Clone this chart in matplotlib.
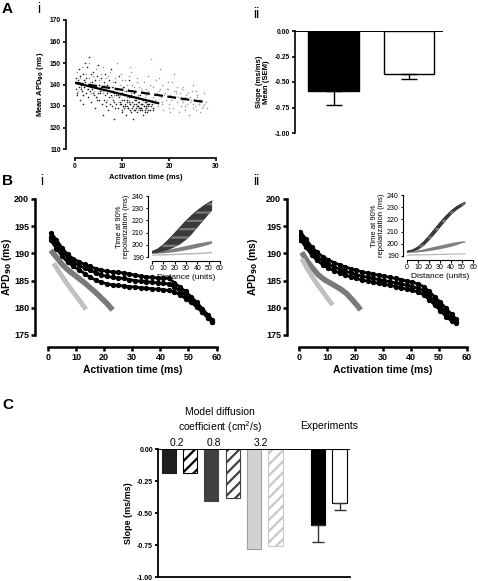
import matplotlib
matplotlib.use('Agg')
import matplotlib.pyplot as plt
import matplotlib.transforms as mtrans

plt.rcParams['font.family'] = ['Liberation Sans', 'DejaVu Sans']
plt.rcParams['hatch.linewidth'] = 1.6

# ---------------- data ----------------
# Panel A-i: scatter (black = early group, gray = late group)
a_black_x = [0.2,0.3,0.5,0.6,0.8,0.9,1.0,1.1,1.3,1.4,1.6,1.7,1.9,2.0,2.1,2.3,2.4,2.6,2.7,2.9,3.0,3.1,3.3,3.4,3.6,3.7,3.9,4.0,4.2,4.3,4.5,4.6,4.8,4.9,5.1,5.2,5.4,5.5,5.7,5.8,6.0,6.1,6.3,6.4,6.6,6.7,6.9,7.0,7.2,7.3,7.5,7.6,7.8,7.9,8.1,8.2,8.4,8.5,8.7,8.8,9.0,9.1,9.3,9.4,9.6,9.7,9.9,10.0,10.2,10.3,10.5,10.6,10.8,10.9,11.1,11.2,11.4,11.5,11.7,11.8,12.0,12.1,12.3,12.4,12.6,12.7,12.9,13.0,13.2,13.3,13.5,13.6,13.8,13.9,14.1,14.2,14.4,14.5,14.7,14.8,15.0,15.1,15.3,15.4,15.6,15.8,16.0,16.3,16.7,17.0,
             0.4,1.2,2.2,3.5,4.4,5.3,6.2,6.8,7.4,8.0,8.6,9.2,9.8,10.1,10.4,10.7,11.0,11.3,11.6,11.9,12.2,12.5,12.8,13.1,13.4,13.7,14.0,14.3,14.6,14.9,15.2,15.5,10.0,11.0,12.0,13.0,14.0,15.0,9.5,10.5,11.5,12.5,13.5,14.5,15.5,8.3,7.7,6.5,5.6,4.7,3.8,2.8,1.8,0.7,16.2,16.5,15.7,14.8,13.8,12.7]
a_black_y = [138,143,136,141,147,139,133,144,140,137,145,131,142,139,150,136,143,148,134,140,153,137,145,132,141,138,146,135,142,129,139,144,136,149,133,140,137,143,131,138,126,141,135,145,132,139,136,128,142,134,137,147,130,139,133,136,124,141,131,135,138,129,134,144,132,136,127,133,139,130,135,131,126,137,133,129,134,142,131,128,135,132,124,130,136,133,129,131,127,134,130,132,128,135,129,131,126,133,130,128,132,129,131,127,130,133,128,131,129,132,
             135,138,141,139,134,136,133,140,131,137,129,135,131,128,133,130,132,129,131,134,129,131,128,130,132,129,131,128,130,132,129,131,136,130,127,133,129,130,131,129,132,128,130,133,128,132,135,130,139,133,136,138,135,142,130,128,131,127,129,134]
a_gray_x = [0.3,0.5,0.7,1.0,1.2,1.5,1.8,2.0,2.3,2.6,2.9,3.2,3.5,3.8,4.1,4.4,4.7,5.0,5.3,5.6,5.9,6.2,6.5,6.8,7.1,7.4,7.7,8.0,8.3,8.6,8.9,9.2,9.5,9.8,10.1,10.4,10.7,11.0,11.3,11.6,11.9,12.2,12.5,12.8,13.1,13.4,13.7,14.0,14.3,14.6,14.9,15.2,15.5,15.8,16.1,16.4,16.7,17.0,17.3,17.6,17.9,18.2,18.5,18.8,19.1,19.4,19.7,20.0,20.3,20.6,20.9,21.2,21.5,21.8,22.1,22.4,22.7,23.0,23.3,23.6,23.9,24.2,24.5,24.8,25.1,25.4,25.7,26.0,26.3,26.6,26.9,27.2,27.5,27.8,28.0,13.5,18.0,9.0,21.0,6.0,25.0,12.0,
            10.5,11.5,12.5,13.5,14.5,15.5,16.5,17.5,18.5,19.5,20.5,21.5,22.5,23.5,24.5,25.5,26.5,27.5,19.0,20.0,21.0,22.0,23.0,24.0,25.0,26.0,27.0,18.0,17.0,16.0,15.0,14.0,13.0,12.0,11.0,10.0,9.0,8.0,7.0,6.0,5.0,4.0,3.0,2.0,1.0,22.8,24.6,26.4,19.8,17.8,15.6,13.2,11.4,9.6,7.8,20.2,23.4,25.8,21.6,18.6]
a_gray_y = [141,146,137,143,139,148,135,142,145,138,150,141,136,144,139,147,134,142,138,145,136,140,143,133,139,146,137,141,135,143,138,132,140,145,136,139,142,134,138,148,136,140,133,137,143,135,139,131,137,141,134,138,144,136,152,133,139,135,142,130,137,134,140,128,136,133,138,131,135,141,129,134,137,132,127,136,133,139,130,135,131,126,134,137,129,133,128,135,131,127,133,130,136,132,129,128,147,150,145,148,140,146,
            137,133,139,135,131,137,134,136,132,138,133,136,130,134,132,130,133,131,135,129,137,134,132,136,131,134,129,138,133,140,135,138,134,137,140,142,136,139,144,137,140,137,143,139,144,138,133,131,141,143,130,141,144,135,134,127,128,137,139,131]
a_fit_black_x = [0, 17.7]
a_fit_black_y = [140.8, 131.3]
a_fit_gray_x = [0, 28.0]
a_fit_gray_y = [140.8, 131.7]

# Panel A-ii
aii_means = [-0.59, -0.42]
aii_sem = [0.14, 0.05]

# Panel B-i main
bi_x = [1,3,5,7,9,11,13,15,17,19,21,23,25,27,29,31,33,35,37,39,41,43,45,47,49,51,53,55,57,58.5]
bi_black_u1 = [193.8,192.5,191.0,189.8,189.0,188.5,188.0,187.6,187.2,186.9,186.7,186.6,186.5,186.4,186.2,186.0,185.8,185.7,185.6,185.5,185.5,185.4,184.6,183.8,183.0,182.0,181.0,179.8,178.7,177.8]
bi_black_u2 = [193.0,191.7,190.3,189.2,188.4,187.8,187.3,186.9,186.4,186.0,185.8,185.6,185.5,185.4,185.2,185.0,184.9,184.8,184.7,184.6,184.5,184.4,183.8,183.1,182.3,181.3,180.3,179.2,178.1,177.4]
bi_black_l1 = [192.4,190.9,189.5,188.4,187.6,187.0,186.3,185.6,185.1,184.7,184.4,184.2,184.1,184.0,183.9,183.8,183.7,183.6,183.5,183.4,183.3,183.2,182.9,182.4,181.7,181.0,180.1,179.2,178.2,177.3]
bi_mid_x = [1,3,5,7,9,11,13,15,17,19,21,23]
bi_mid_y = [190.6,189.3,188.0,187.0,186.2,185.4,184.6,183.7,182.8,181.8,180.8,179.6]
bi_light_x = [2,4,6,8,10,12,13.5]
bi_light_y = [188.2,186.6,185.0,183.6,182.2,180.8,179.7]

# Panel B-i inset
ins_x = [0,5,10,15,20,25,30,35,40,45,50,53]
bi_ins_dark_hi = [194.5,196.5,200.0,204.5,209.5,214.5,219.5,224.0,228.0,231.5,234.5,236.0]
bi_ins_dark_lo = [193.0,193.5,194.5,196.0,198.0,200.5,204.0,208.5,214.0,219.5,225.0,228.0]
bi_ins_mid_hi = [193.5,194.2,195.0,196.0,197.0,198.0,199.0,200.0,201.0,201.8,202.6,203.0]
bi_ins_mid_lo = [192.5,192.7,193.0,193.4,194.0,194.7,195.5,196.5,197.5,198.7,200.0,201.0]
bi_ins_light_hi = [192.0,192.1,192.3,192.5,192.7,192.9,193.1,193.3,193.5,193.7,194.0,194.3]
bi_ins_light_lo = [191.0,191.1,191.2,191.3,191.5,191.7,191.9,192.1,192.3,192.5,192.8,193.1]

# Panel B-ii main
bii_x = [0.5,2.5,4.5,6.5,8.5,10.5,12.5,14.5,16.5,18.5,20.5,22.5,24.5,26.5,28.5,30.5,32.5,34.5,36.5,38.5,40.5,42.5,44.5,46.5,48.5,50.5,52.5,54.5,56.0]
bii_black_u = [194.0,192.6,191.2,190.2,189.4,188.8,188.3,187.9,187.5,187.2,186.9,186.6,186.4,186.2,186.0,185.8,185.6,185.4,185.2,184.9,184.7,184.4,183.9,183.0,182.0,181.0,179.9,178.8,178.0]
bii_black_m = [193.2,191.8,190.4,189.4,188.6,188.0,187.5,187.1,186.7,186.4,186.1,185.8,185.6,185.4,185.2,185.0,184.8,184.6,184.4,184.1,183.9,183.6,183.1,182.2,181.2,180.2,179.1,178.1,177.4]
bii_black_l = [192.5,191.1,189.7,188.7,187.9,187.3,186.8,186.4,186.0,185.7,185.4,185.1,184.9,184.7,184.5,184.3,184.1,183.9,183.7,183.4,183.2,182.9,182.4,181.5,180.5,179.5,178.4,177.6,177.2]
bii_mid_x = [1,3,5,7,9,11,13,15,17,19,21,22]
bii_mid_y = [190.2,188.5,187.2,186.0,185.2,184.6,184.0,183.4,182.6,181.5,180.3,179.6]
bii_light_x = [1,3,5,7,9,11,12]
bii_light_y = [189.0,187.2,185.5,184.0,182.6,181.2,180.5]

# Panel B-ii inset
bii_ins_dark_hi = [194.0,195.0,197.5,201.5,206.5,212.0,217.5,222.5,227.0,230.5,233.0,234.0]
bii_ins_dark_lo = [193.0,193.5,195.0,198.0,202.5,207.5,213.0,218.5,223.5,227.5,230.5,232.5]
bii_ins_mid_hi = [193.5,193.9,194.5,195.4,196.5,197.5,198.5,199.5,200.5,201.3,202.0,202.0]
bii_ins_mid_lo = [192.5,192.7,193.0,193.4,194.0,194.7,195.5,196.5,197.5,198.8,200.5,201.0]
bii_ins_light_hi = [191.2,191.3,191.4,191.5,191.6,191.7,191.8,191.9,192.0,192.1,192.2,192.3]
bii_ins_light_lo = [190.2,190.3,190.4,190.5,190.6,190.7,190.8,190.9,191.0,191.1,191.2,191.3]

# Panel C
c_pos = [0, 1, 2, 3, 4, 5, 7, 8]
c_values = [-0.19, -0.19, -0.41, -0.385, -0.785, -0.76, -0.59, -0.42]
c_err = [0, 0, 0, 0, 0, 0, 0.14, 0.055]
c_diff_labels = ['0.2', '0.8', '3.2']
c_diff_label_pos = [0.4, 2.1, 4.3]

# ---------------- figure ----------------
W, H = 478, 581
fig = plt.figure(figsize=(W / 100, H / 100), dpi=100)
PX = 0.72


def ax_px(x0, y_top, x1, y_bot):
    return fig.add_axes([x0 / W, 1 - y_bot / H, (x1 - x0) / W, (y_bot - y_top) / H])


def prism(ax, left_out, bottom_out, lw=1.3, tl=3, fs=5, bold=True):
    ax.patch.set_visible(False)
    for s in ['top', 'right']:
        ax.spines[s].set_visible(False)
    ax.spines['left'].set_position(('outward', left_out * PX))
    ax.spines['bottom'].set_position(('outward', bottom_out * PX))
    ax.spines['left'].set_linewidth(lw)
    ax.spines['bottom'].set_linewidth(lw)
    ax.tick_params(length=tl, width=lw, labelsize=fs, pad=1.2)
    for lab in ax.get_xticklabels() + ax.get_yticklabels():
        lab.set_fontweight('bold' if bold else 'normal')


def inset(ax, lo_l, hi_l, lo_m, hi_m, lo_d, hi_d):
    ax.fill_between(ins_x, lo_l, hi_l, facecolor='#b8b8b8', edgecolor='none')
    ax.fill_between(ins_x, lo_m, hi_m, facecolor='#808080', edgecolor='none')
    ax.fill_between(ins_x, lo_d, hi_d, facecolor='#3a3a3a', edgecolor='#7a7a7a', hatch='--', linewidth=0)
    ax.plot(ins_x, hi_d, color='#2a2a2a', lw=0.6)
    ax.set_xlim(0, 60)
    ax.set_ylim(190, 240)
    ax.set_xticks([0, 10, 20, 30, 40, 50, 60])
    ax.set_yticks([190, 200, 210, 220, 230, 240])
    prism(ax, 4, 4, lw=0.8, tl=1.8, fs=5, bold=False)
    ax.set_xlabel('Distance (units)', fontsize=6, labelpad=1)
    ax.set_ylabel('Time at 90%\nrepolarization (ms)', fontsize=5.5, labelpad=1.5, linespacing=0.95)


# ---- A-i ----
ax = ax_px(75, 20, 216, 149)
ax.scatter(a_gray_x, a_gray_y, s=1.3, color='#a0a0a0', linewidths=0)
ax.scatter(a_black_x, a_black_y, s=1.3, color='#202020', linewidths=0)
ax.plot(a_fit_black_x, a_fit_black_y, color='black', lw=1.6)
ax.plot(a_fit_gray_x, a_fit_gray_y, color='black', lw=1.6, ls=(0, (4, 2)))
ax.set_xlim(0, 30)
ax.set_ylim(110, 170)
ax.set_xticks([0, 10, 20, 30])
ax.set_yticks([110, 120, 130, 140, 150, 160, 170])
prism(ax, 9, 9, lw=1.2, tl=2.5, fs=4.8)
ax.spines['left'].set_bounds(110, 170)
ax.spines['bottom'].set_bounds(0, 30)
ax.set_xlabel('Activation time (ms)', fontsize=5.5, fontweight='bold', labelpad=3)
ax.set_ylabel('Mean APD$_{\\mathbf{90}}$ (ms)', fontsize=5.5, fontweight='bold', labelpad=3)

# ---- A-ii ----
ax = ax_px(295, 31, 443, 133)
ax.bar([0, 1], aii_means, width=0.67, color=['black', 'white'], edgecolor='black', linewidth=1.0)
ax.errorbar([0, 1], aii_means, yerr=[aii_sem, [0, 0]], fmt='none', ecolor='black', elinewidth=1.0, capsize=6, capthick=1.0)
ax.axhline(0, color='black', lw=1.4)
ax.set_xlim(-0.51, 1.45)
ax.set_ylim(-1.0, 0.0)
ax.set_yticks([0, -0.25, -0.5, -0.75, -1.0])
ax.set_yticklabels(['0.00', '-0.25', '-0.50', '-0.75', '-1.00'])
ax.set_xticks([])
prism(ax, 0, 0, lw=1.2, tl=2.5, fs=4.8)
ax.spines['bottom'].set_visible(False)
ax.set_ylabel('Slope (ms/ms)\nMean (SEM)', fontsize=5.5, fontweight='bold', labelpad=3, linespacing=1.0)

# ---- B-i main ----
ax = ax_px(48, 199, 216.5, 335)
for yy in [bi_black_l1, bi_black_u2, bi_black_u1]:
    ax.plot(bi_x, yy, '-o', color='black', lw=2.0, ms=2.8)
ax.plot(bi_mid_x, bi_mid_y, '-', color='#7a7a7a', lw=4.0, solid_capstyle='butt')
ax.plot(bi_light_x, bi_light_y, '-', color='#c0c0c0', lw=3.5, solid_capstyle='butt')
ax.set_xlim(0, 60)
ax.set_ylim(175, 200)
ax.set_xticks([0, 10, 20, 30, 40, 50, 60])
ax.set_yticks([175, 180, 185, 190, 195, 200])
prism(ax, 13, 12, lw=1.8, tl=3, fs=6.5)
ax.spines['bottom'].set_bounds(0, 60)
ax.set_xlabel('Activation time (ms)', fontsize=7.5, fontweight='bold', labelpad=2)
ax.set_ylabel('APD$_{\\mathbf{90}}$ (ms)', fontsize=7.5, fontweight='bold')
ax.yaxis.set_label_coords(-0.2, 0.5)

# ---- B-i inset ----
ax = ax_px(152, 196, 220, 257)
inset(ax, bi_ins_light_lo, bi_ins_light_hi, bi_ins_mid_lo, bi_ins_mid_hi, bi_ins_dark_lo, bi_ins_dark_hi)

# ---- B-ii main ----
ax = ax_px(299, 199, 467, 335)
for yy in [bii_black_l, bii_black_m, bii_black_u]:
    ax.plot(bii_x, yy, '-o', color='black', lw=2.0, ms=2.8)
ax.plot(bii_mid_x, bii_mid_y, '-', color='#7a7a7a', lw=4.0, solid_capstyle='butt')
ax.plot(bii_light_x, bii_light_y, '-', color='#c0c0c0', lw=3.5, solid_capstyle='butt')
ax.set_xlim(0, 60)
ax.set_ylim(175, 200)
ax.set_xticks([0, 10, 20, 30, 40, 50, 60])
ax.set_yticks([175, 180, 185, 190, 195, 200])
prism(ax, 12, 12, lw=1.8, tl=3, fs=6.5)
ax.spines['bottom'].set_bounds(0, 60)
ax.set_xlabel('Activation time (ms)', fontsize=7.5, fontweight='bold', labelpad=2)
ax.set_ylabel('APD$_{\\mathbf{90}}$ (ms)', fontsize=7.5, fontweight='bold')
ax.yaxis.set_label_coords(-0.235, 0.5)

# ---- B-ii inset ----
ax = ax_px(407, 195, 473, 256)
inset(ax, bii_ins_light_lo, bii_ins_light_hi, bii_ins_mid_lo, bii_ins_mid_hi, bii_ins_dark_lo, bii_ins_dark_hi)

# ---- C ----
ax = ax_px(158.3, 449, 350, 577)
faces = ['#1e1e1e', 'white', '#404040', 'white', '#d2d2d2', 'white', 'black', 'white']
edges = ['#1e1e1e', 'black', '#404040', '#404040', '#a0a0a0', '#c8c8c8', 'black', 'black']
hatches = [None, '///', None, '///', None, '///', None, None]
for p, v, fc, ec, ht in zip(c_pos, c_values, faces, edges, hatches):
    ax.bar(p, v, width=0.66, color=fc, edgecolor=ec, hatch=ht, linewidth=0.8)
for p, v, e in zip(c_pos, c_values, c_err):
    if e > 0:
        ax.errorbar([p], [v], yerr=[[e], [0]], fmt='none', ecolor='#333333', elinewidth=1.0, capsize=4.5, capthick=1.0)
ax.axhline(0, color='black', lw=1.4)
ax.set_xlim(-0.49, 8.49)
ax.set_ylim(-1.0, 0.0)
ax.set_yticks([0, -0.25, -0.5, -0.75, -1.0])
ax.set_yticklabels(['0.00', '-0.25', '-0.50', '-0.75', '-1.00'])
ax.set_xticks([])
prism(ax, 0, 0, lw=1.3, tl=2.5, fs=5)
ax.set_ylabel('Slope (ms/ms)', fontsize=6.5, fontweight='bold', labelpad=3)
tr = mtrans.blended_transform_factory(ax.transData, fig.transFigure)
for lbl, p in zip(c_diff_labels, c_diff_label_pos):
    ax.text(p, 1 - 443 / H, lbl, transform=tr, ha='center', va='center', fontsize=7.5)
ax.text(2.4, 1 - 412 / H, 'Model diffusion', transform=tr, ha='center', va='center', fontsize=7.5)
ax.text(2.4, 1 - 427 / H, 'coefficient (cm$^2$/s)', transform=tr, ha='center', va='center', fontsize=7.5)
ax.text(7.5, 1 - 426 / H, 'Experiments', transform=tr, ha='center', va='center', fontsize=7.5)

# ---- panel labels ----
def ftext(x, y, s, **kw):
    fig.text(x / W, 1 - y / H, s, va='center', **kw)

ftext(2, 9, 'A', fontsize=11, fontweight='bold')
ftext(37, 9, 'i', fontsize=10)
ftext(253, 14, 'ii', fontsize=10)
ftext(2, 181, 'B', fontsize=11, fontweight='bold')
ftext(40, 181, 'i', fontsize=10)
ftext(253, 181, 'ii', fontsize=10)
ftext(2, 405, 'C', fontsize=11, fontweight='bold')

fig.savefig('out.png', dpi=100)
